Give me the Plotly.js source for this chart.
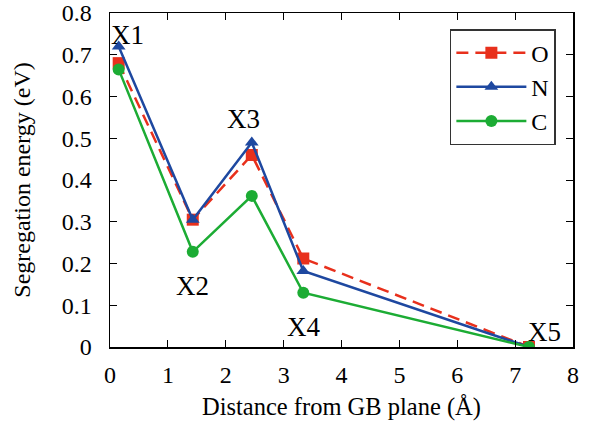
<!DOCTYPE html>
<html>
<head>
<meta charset="utf-8">
<script src="https://cdn.plot.ly/plotly-3.0.1.min.js"></script>
<style>html,body{margin:0;padding:0;background:#fff;}#chart{width:595px;height:428px;}</style>
</head>
<body>
<div id="chart"></div>
<script>
var distance = [0.15, 1.43, 2.45, 3.34, 7.24];
var siteLabels = ["X1", "X2", "X3", "X4", "X5"];
var energyO = [0.68, 0.305, 0.46, 0.212, 0.0];
var energyN = [0.72, 0.305, 0.49, 0.182, 0.0];
var energyC = [0.665, 0.228, 0.362, 0.13, 0.0];
var labelX = [0.3, 1.43, 2.3, 3.34, 7.5];
var labelY = [0.748, 0.145, 0.545, 0.047, 0.035];
var yTicks = [0, 0.1, 0.2, 0.3, 0.4, 0.5, 0.6, 0.7, 0.8];
var yTickText = ["0", "0.1", "0.2", "0.3", "0.4", "0.5", "0.6", "0.7", "0.8"];

var fontFam = "Liberation Serif";
function f(sz){ return {family: fontFam, size: sz, color: "#000"}; }
var traces = [
  {x: distance, y: energyO, name: "O", mode: "lines+markers",
   line: {color: "rgb(232,48,28)", width: 2.5, dash: "12px,7px"},
   marker: {symbol: "square", size: 12, color: "rgb(232,48,28)"}},
  {x: distance, y: energyN, name: "N", mode: "lines+markers",
   line: {color: "rgb(30,72,160)", width: 2.5},
   marker: {symbol: "triangle-up", size: 12, color: "rgb(30,72,160)"}},
  {x: distance, y: energyC, name: "C", mode: "lines+markers",
   line: {color: "rgb(28,172,52)", width: 2.5},
   marker: {symbol: "circle", size: 12, color: "rgb(28,172,52)"}}
];
var annotations = siteLabels.map(function(t, i){
  return {x: labelX[i], y: labelY[i], text: t, showarrow: false, xref: "x", yref: "y",
          font: f(27)};
});
var layout = {
  width: 595, height: 428,
  margin: {l: 109.5, r: 22, t: 13, b: 80.5},
  paper_bgcolor: "#fff", plot_bgcolor: "#fff",
  font: f(24),
  showlegend: true,
  legend: {x: 0.963, y: 0.952, xanchor: "right", yanchor: "top",
           bordercolor: "#333", borderwidth: 1.5, bgcolor: "#fff",
           itemwidth: 70, tracegroupgap: 0,
           font: f(24)},
  xaxis: {range: [0, 8], dtick: 1, tick0: 0, showgrid: false, zeroline: false,
          showline: true, linecolor: "#000", linewidth: 1.5, mirror: "ticks",
          ticks: "inside", ticklen: 7, tickcolor: "#000", tickwidth: 1,
          ticklabelstandoff: 6, tickfont: f(24), ticklabeloverflow: "allow",
          title: {text: "Distance from GB plane (Å)", font: f(24.5), standoff: 10}},
  yaxis: {range: [0, 0.8001], tickmode: "array", tickvals: yTicks, ticktext: yTickText,
          showgrid: false, zeroline: false,
          showline: true, linecolor: "#000", linewidth: 1.5, mirror: "ticks",
          ticks: "inside", ticklen: 7, tickcolor: "#000", tickwidth: 1,
          ticklabelstandoff: 12, tickfont: f(24), ticklabeloverflow: "allow",
          title: {text: "Segregation energy (eV)", font: f(24), standoff: 24}},
  annotations: annotations
};
Plotly.newPlot("chart", traces, layout, {staticPlot: true, displayModeBar: false});
</script>
</body>
</html>
